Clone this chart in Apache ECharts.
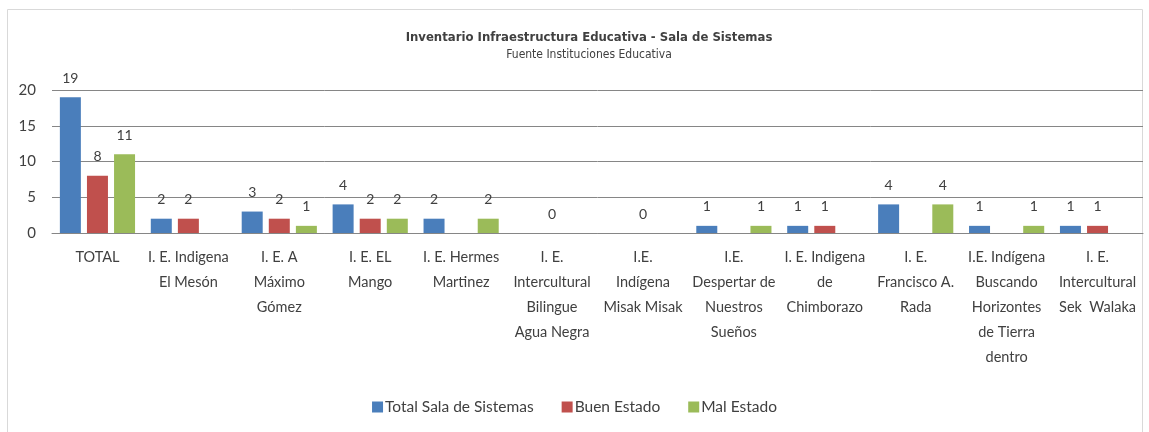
<!DOCTYPE html>
<html>
<head>
<meta charset="utf-8">
<script src="https://cdn.jsdelivr.net/npm/echarts@6/dist/echarts.min.js"></script>
<style>
html,body{margin:0;padding:0;background:#fff;}
#c{width:1149px;height:432px;}
</style>
</head>
<body>
<div id="c"></div>
<script>
const titleText = 'Inventario Infraestructura Educativa - Sala de Sistemas';
const subtitleText = 'Fuente Instituciones Educativa';
const categories = [
  'TOTAL',
  'I. E. Indigena\nEl Mesón',
  'I. E. A\nMáximo\nGómez',
  'I. E. EL\nMango',
  'I. E. Hermes\nMartinez',
  'I. E.\nIntercultural\nBilingue\nAgua Negra',
  'I.E.\nIndígena\nMisak Misak',
  'I.E.\nDespertar de\nNuestros\nSueños',
  'I. E. Indigena\nde\nChimborazo',
  'I. E.\nFrancisco A.\nRada',
  'I.E. Indígena\nBuscando\nHorizontes\nde Tierra\ndentro',
  'I. E.\nIntercultural\nSek  Walaka'
];
const seriesNames = ['Total Sala de Sistemas', 'Buen Estado', 'Mal Estado'];
const totalSala = [19, 2, 3, 4, 2, null, null, 1, 1, 4, 1, 1];
const buenEstado = [8, 2, 2, 2, null, 0, 0, null, 1, null, null, 1];
const malEstado = [11, null, 1, 2, 2, null, null, 1, null, 4, 1, null];
const yTicks = {min: 0, max: 20, interval: 5};

const colors = ['#4A7EBB', '#C0504D', '#9BBB59'];
const chart = echarts.init(document.getElementById('c'));
const lbl = {show: true, position: 'top', distance: 12, color: '#404040', fontSize: 14, fontFamily: 'Lato, sans-serif'};
const mk = (name, data, i) => ({
  name, type: 'bar', data, barWidth: 21, barGap: '29%',
  itemStyle: {color: colors[i]}, label: lbl
});
chart.setOption({
  animation: false,
  textStyle: {fontFamily: 'Lato, sans-serif'},
  graphic: [{type: 'rect', shape: {x: 7.5, y: 9.5, width: 1135, height: 430}, style: {fill: 'none', stroke: '#d9d9d9', lineWidth: 1}}],
  title: {
    text: titleText, subtext: subtitleText, left: 584, textAlign: 'center', top: 26, itemGap: 5,
    textStyle: {fontFamily: '"Liberation Sans Narrow", "DejaVu Sans Condensed", sans-serif', fontWeight: 'bold', fontSize: 13, color: '#404040'},
    subtextStyle: {fontFamily: '"Liberation Sans Narrow", "DejaVu Sans Condensed", sans-serif', fontSize: 12, color: '#404040'}
  },
  legend: {
    data: seriesNames, bottom: 12, left: 'center', itemWidth: 11, itemHeight: 11, itemGap: 28,
    icon: 'rect', textStyle: {fontSize: 15.5, color: '#404040', fontFamily: 'Lato, sans-serif', padding: [0, 0, 0, -3]}
  },
  grid: {left: 52, right: 6, top: 90, bottom: 199, containLabel: false},
  xAxis: {
    type: 'category', data: categories,
    axisLine: {lineStyle: {color: '#868686'}},
    axisTick: {show: false},
    axisLabel: {interval: 0, margin: 12, fontSize: 14.5, lineHeight: 25, color: '#404040', fontFamily: 'Lato, sans-serif'}
  },
  yAxis: {
    type: 'value', min: yTicks.min, max: yTicks.max, interval: yTicks.interval,
    axisLine: {show: false}, axisTick: {show: false},
    axisLabel: {fontSize: 15, color: '#404040', margin: 16, fontFamily: 'Lato, sans-serif'},
    splitLine: {lineStyle: {color: '#868686', width: 1}}
  },
  series: [mk(seriesNames[0], totalSala, 0), mk(seriesNames[1], buenEstado, 1), mk(seriesNames[2], malEstado, 2)]
});
</script>
</body>
</html>
